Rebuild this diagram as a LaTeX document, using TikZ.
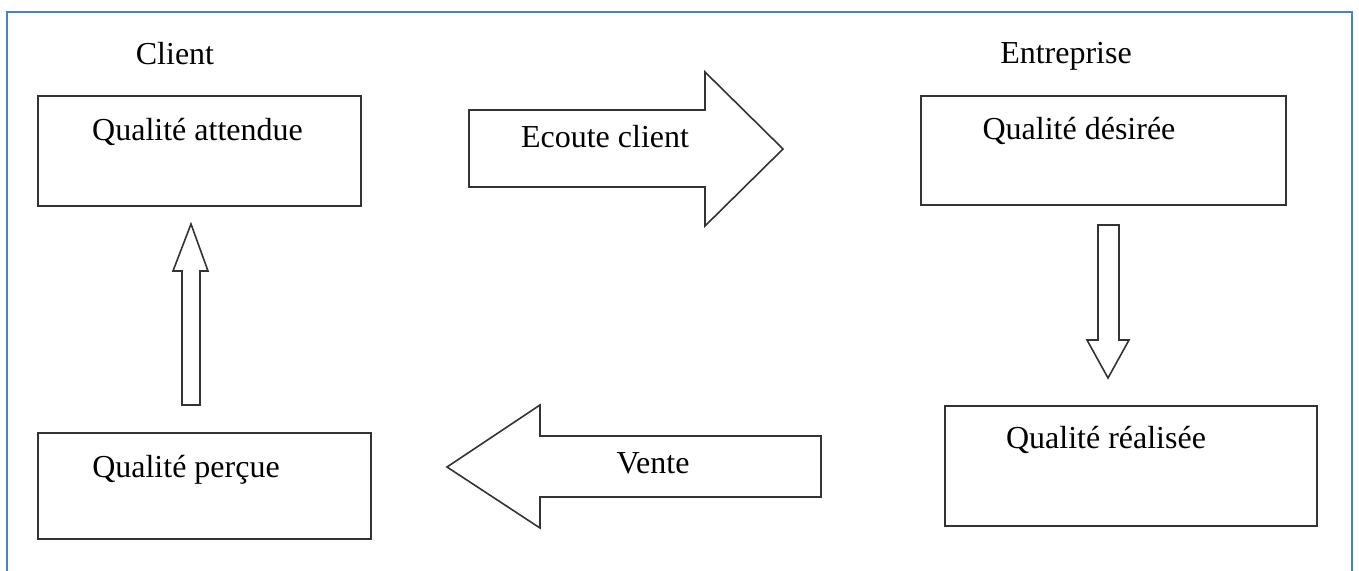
\documentclass[tikz,border=0pt]{standalone}
\usepackage{fontspec}
\setmainfont{Liberation Serif}
\usetikzlibrary{positioning}
\definecolor{frameblue}{RGB}{79,129,189}
\tikzstyle{box} = [rectangle, draw=black!80, line width=1.6pt, inner sep=0pt]
\tikzstyle{txt} = [font=\fontsize{32}{38}\selectfont, inner sep=0pt, anchor=base]
\tikzstyle{bigarrow} = [draw=black!80, line width=1.6pt, fill=white, line join=miter]

\begin{document}
\begin{tikzpicture}[x=1pt, y=-1pt]
            \useasboundingbox (0,0) rectangle (1359,570);
            % Frame
            \draw [frameblue, line width=2pt] (7,575) -- (7,12) -- (1352,12) -- (1352,575);

            % Nodes
            \node (client) [txt] at (175,64) {Client};
            \node (entreprise) [txt] at (1066,63) {Entreprise};

            \node (attendue) [box, minimum width=323pt, minimum height=110pt] at (199.5,151) {};
            \node (attenduetxt) [txt] at (197.5,140) {Qualité attendue};

            \node (desiree) [box, minimum width=365pt, minimum height=109pt] at (1103.5,150.5) {};
            \node (desireetxt) [txt] at (1079,139) {Qualité désirée};

            \node (realisee) [box, minimum width=372pt, minimum height=120pt] at (1131,466) {};
            \node (realiseetxt) [txt] at (1106,448) {Qualité réalisée};

            \node (percue) [box, minimum width=333pt, minimum height=106pt] at (204.5,486) {};
            \node (percuetxt) [txt] at (186,477) {Qualité perçue};

            % Block arrows
            \draw [bigarrow] (469,110) -- (705,110) -- (705,72) -- (783,149) -- (705,226) -- (705,187) -- (469,187) -- cycle;
            \node (ecoute) [txt] at (605,147) {Ecoute client};

            \draw [bigarrow] (821,436) -- (540,436) -- (540,405) -- (447,467) -- (540,528) -- (540,497) -- (821,497) -- cycle;
            \node (vente) [txt] at (653,473) {Vente};

            \draw [bigarrow] (1098,225) -- (1119,225) -- (1119,340) -- (1129,340) -- (1108,378) -- (1087,340) -- (1098,340) -- cycle;
            \draw [bigarrow] (182,405) -- (200,405) -- (200,271) -- (208,271) -- (191,224) -- (173,271) -- (182,271) -- cycle;
        \end{tikzpicture}
\end{document}
